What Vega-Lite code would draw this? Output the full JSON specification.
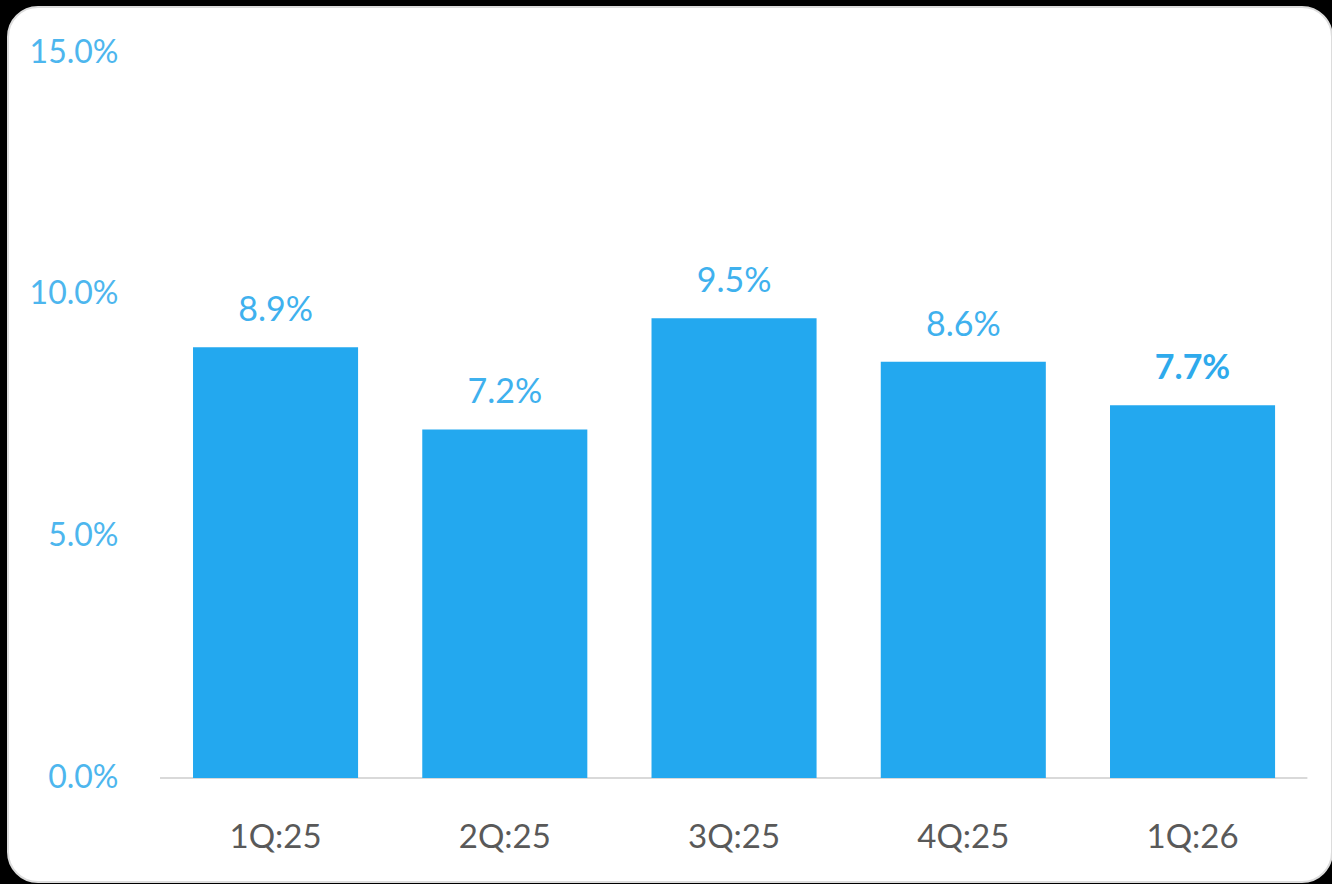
{
  "$schema": "https://vega.github.io/schema/vega-lite/v6.json",
  "width": 1324,
  "height": 875,
  "autosize": "none",
  "padding": {"left": 8, "top": 7, "right": 0, "bottom": 2},
  "background": "#000000",
  "view": {"fill": "#ffffff", "cornerRadius": 30, "stroke": "#dcdcdc", "strokeWidth": 2},
  "data": {"values": [
    {"q": "1Q:25", "v": 0.089},
    {"q": "2Q:25", "v": 0.072},
    {"q": "3Q:25", "v": 0.095},
    {"q": "4Q:25", "v": 0.086},
    {"q": "1Q:26", "v": 0.077}
  ]},
  "encoding": {
    "x": {
      "field": "q", "type": "nominal", "sort": null,
      "scale": {"domain": ["1Q:25", "2Q:25", "3Q:25", "4Q:25", "1Q:26"], "paddingInner": 0.28, "paddingOuter": 0.5277, "align": 0.7647},
      "axis": {
        "title": null, "orient": "bottom", "offset": -104, "domain": false, "ticks": false, "tickSize": 0,
        "labelAngle": 0, "labelPadding": 69, "labelBaseline": "alphabetic",
        "labelFont": "Lato", "labelFontSize": 33, "labelFontWeight": 400, "labelColor": "#595959", "grid": false
      }
    }
  },
  "layer": [
    {
      "mark": {"type": "rule", "color": "#d9d9d9", "strokeWidth": 2},
      "encoding": {
        "x": {"datum": "1Q:25", "bandPosition": -0.2},
        "x2": {"datum": "1Q:26", "bandPosition": 1.194},
        "y": {"datum": 0, "type": "quantitative"}
      }
    },
    {
      "mark": {"type": "bar", "color": "#23a8ef"},
      "encoding": {
        "y": {
          "field": "v", "type": "quantitative",
          "scale": {"domain": [-0.0215, 0.1593], "nice": false, "zero": false},
          "axis": {
            "title": null, "values": [0, 0.05, 0.1, 0.15], "format": ".1%", "orient": "left",
            "offset": -110, "domain": false, "ticks": false, "tickSize": 0, "labelPadding": 0,
            "grid": false, "labelBaseline": "middle", "labelAlign": "right",
            "labelFont": "Lato", "labelFontSize": 32, "labelFontWeight": 400, "labelColor": "#4db6ee"
          }
        },
        "y2": {"datum": 0}
      }
    },
    {
      "transform": [{"filter": "datum.q !== '1Q:26'"}],
      "mark": {"type": "text", "baseline": "alphabetic", "align": "center", "dy": -26, "font": "Lato", "fontSize": 34, "fontWeight": 400, "color": "#3fb1ee"},
      "encoding": {
        "y": {"field": "v", "type": "quantitative"},
        "text": {"field": "v", "type": "quantitative", "format": ".1%"}
      }
    },
    {
      "transform": [{"filter": "datum.q === '1Q:26'"}],
      "mark": {"type": "text", "baseline": "alphabetic", "align": "center", "dy": -26, "font": "Lato", "fontSize": 34, "fontWeight": 700, "color": "#2eaaec"},
      "encoding": {
        "y": {"field": "v", "type": "quantitative"},
        "text": {"field": "v", "type": "quantitative", "format": ".1%"}
      }
    }
  ]
}
